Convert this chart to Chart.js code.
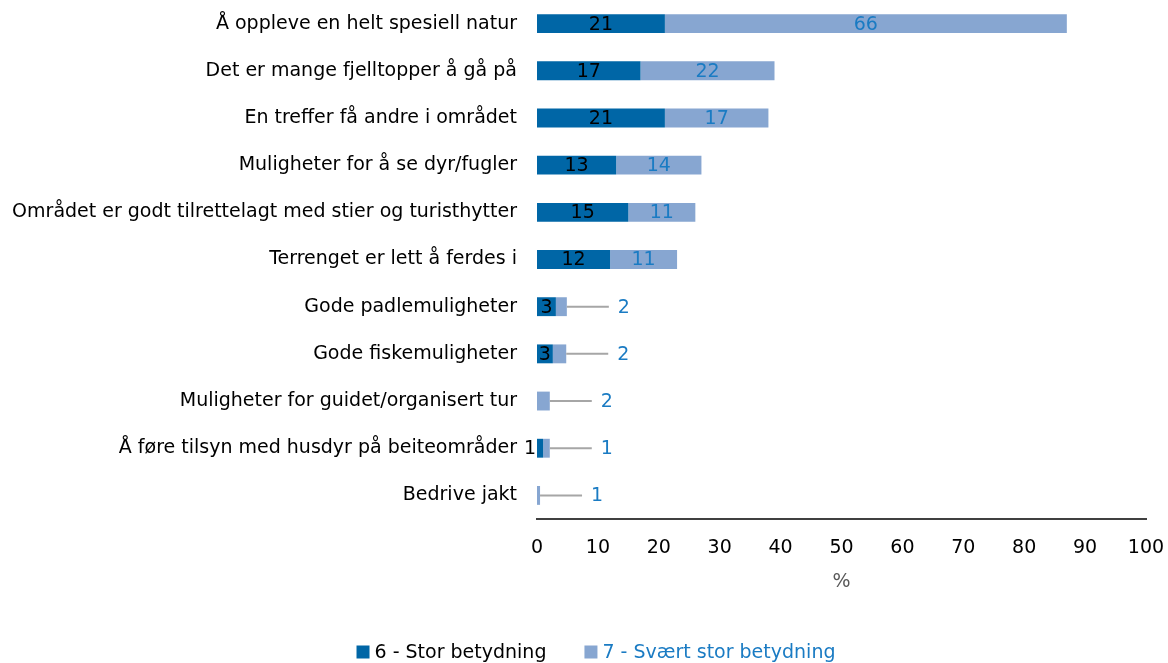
<!DOCTYPE html>
<html>
<head>
<meta charset="utf-8">
<script src="https://cdn.jsdelivr.net/npm/chart.js@4.4.0/dist/chart.umd.min.js"></script>
<style>
html,body{margin:0;padding:0;background:#fff;}
#wrap{width:1168px;height:663px;position:relative;}
</style>
</head>
<body>
<div id="wrap"><canvas id="c" width="1168" height="663"></canvas></div>
<script>
const categories = [
  "Å oppleve en helt spesiell natur",
  "Det er mange fjelltopper å gå på",
  "En treffer få andre i området",
  "Muligheter for å se dyr/fugler",
  "Området er godt tilrettelagt med stier og turisthytter",
  "Terrenget er lett å ferdes i",
  "Gode padlemuligheter",
  "Gode fiskemuligheter",
  "Muligheter for guidet/organisert tur",
  "Å føre tilsyn med husdyr på beiteområder",
  "Bedrive jakt"
];
const storBetydning = [21, 17, 21, 13, 15, 12, 3.1, 2.6, 0, 1, 0];
const svaertStorBetydning = [66, 22, 17, 14, 11, 11, 1.8, 2.2, 2.1, 1.1, 0.5];
const xTicks = [0, 10, 20, 30, 40, 50, 60, 70, 80, 90, 100];
const seriesNames = ["6 - Stor betydning", "7 - Svært stor betydning"];

const DARK = "#0066A6";
const LIGHT = "#87A6D1";
const BLUE_TEXT = "#1A7BC3";
const FONT = "'DejaVu Sans', sans-serif";

const labelPlugin = {
  id: "barLabels",
  afterDatasetsDraw(chart) {
    const ctx = chart.ctx;
    ctx.save();
    ctx.font = "19px " + FONT;
    ctx.textBaseline = "middle";
    chart.data.datasets.forEach((ds, di) => {
      const meta = chart.getDatasetMeta(di);
      meta.data.forEach((bar, i) => {
        const v = ds.data[i];
        if (!v) return;
        const txt = String(Math.round(v));
        const w = Math.abs(bar.x - bar.base);
        const y = bar.y + 1;
        if (di === 0) {
          ctx.fillStyle = "#000";
          if (w > 12) {
            ctx.textAlign = "center";
            ctx.fillText(txt, (bar.x + bar.base) / 2, y);
          } else {
            ctx.textAlign = "right";
            ctx.fillText(txt, bar.base - 1, y);
          }
        } else {
          ctx.fillStyle = BLUE_TEXT;
          if (w > 30) {
            ctx.textAlign = "center";
            ctx.fillText(txt, (bar.x + bar.base) / 2, y);
          } else {
            ctx.strokeStyle = "#A6A6A6";
            ctx.lineWidth = 2;
            ctx.beginPath();
            ctx.moveTo(bar.x, bar.y);
            ctx.lineTo(bar.x + 42, bar.y);
            ctx.stroke();
            ctx.textAlign = "center";
            ctx.fillText(txt, bar.x + 57, y);
          }
        }
      });
    });
    ctx.restore();
  }
};

const legendPlugin = {
  id: "customLegend",
  afterDraw(chart) {
    const ctx = chart.ctx;
    ctx.save();
    ctx.font = "19px " + FONT;
    ctx.textBaseline = "middle";
    const box = 13, gapBoxText = 5, gapItems = 38;
    const colors = [DARK, LIGHT];
    const textColors = ["#000", BLUE_TEXT];
    const widths = seriesNames.map(n => box + gapBoxText + ctx.measureText(n).width);
    const total = widths[0] + gapItems + widths[1];
    let x = 596 - total / 2;
    const y = 653;
    seriesNames.forEach((n, i) => {
      ctx.fillStyle = colors[i];
      ctx.fillRect(x, y - box / 2 - 1, box, box);
      ctx.fillStyle = textColors[i];
      ctx.textAlign = "left";
      ctx.fillText(n, x + box + gapBoxText, y);
      x += widths[i] + gapItems;
    });
    ctx.restore();
  }
};

new Chart(document.getElementById("c"), {
  type: "bar",
  data: {
    labels: categories,
    datasets: [
      { label: seriesNames[0], data: storBetydning, backgroundColor: DARK, barPercentage: 0.4, categoryPercentage: 1 },
      { label: seriesNames[1], data: svaertStorBetydning, backgroundColor: LIGHT, barPercentage: 0.4, categoryPercentage: 1 }
    ]
  },
  options: {
    indexAxis: "y",
    responsive: false,
    animation: false,
    devicePixelRatio: 1,
    layout: { padding: { top: 0, right: 22, bottom: 70, left: 0 } },
    scales: {
      y: {
        stacked: true,
        grid: { display: false, drawTicks: false },
        border: { display: false },
        ticks: { color: "#000", font: { family: FONT, size: 19 }, padding: 20 },
        afterFit(scale) { scale.width = 537; scale.paddingTop = 0; scale.paddingBottom = 0; }
      },
      x: {
        stacked: true,
        min: 0, max: 100,
        afterBuildTicks(scale) { scale.ticks = xTicks.map(v => ({ value: v })); },
        grid: { display: false, drawTicks: false },
        border: { display: true, color: "#404040", width: 2 },
        ticks: { color: "#000", font: { family: FONT, size: 19 }, padding: 18 },
        title: { display: true, text: "%", color: "#595959", font: { family: FONT, size: 19 }, padding: { top: 10, bottom: 0 } },
        afterFit(scale) { scale.height = 74; scale.paddingLeft = 0; scale.paddingRight = 0; }
      }
    },
    plugins: {
      tooltip: { enabled: false },
      legend: { display: false }
    }
  },
  plugins: [labelPlugin, legendPlugin]
});
</script>
</body>
</html>
